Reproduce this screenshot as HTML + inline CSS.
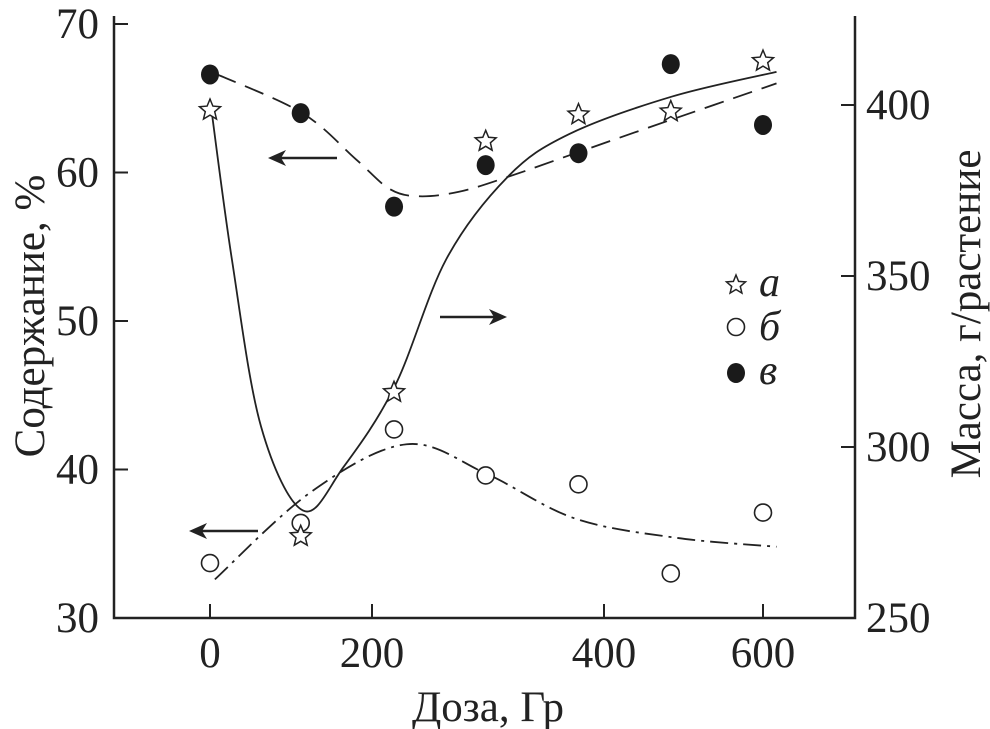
<!DOCTYPE html>
<html><head><meta charset="utf-8"><style>
html,body{margin:0;padding:0;background:#fff;}
svg{display:block;font-family:"Liberation Serif","DejaVu Serif",serif;}
</style></head><body>
<svg id="chart" width="990" height="729" viewBox="0 0 990 729" xmlns="http://www.w3.org/2000/svg">
<g id="axes"></g>
<g id="curves"></g>
<g id="marks"></g>
<g id="legend"></g>
</svg>
<script>
const xTicks = [0, 200, 400, 600];
const leftTicks = [30, 40, 50, 60, 70];
const rightTicks = [250, 300, 350, 400];
const doses = [0, 112, 219, 298, 378, 484, 600];
const seriesA = [64.2, 35.5, 45.2, 62.1, 63.9, 64.1, 67.5];
const seriesB = [33.7, 36.4, 42.7, 39.6, 39.0, 33.0, 37.1];
const seriesC = [66.6, 64.0, 57.7, 60.5, 61.3, 67.3, 63.2];
const massDoses = [0, 27, 63, 115, 165, 220, 264, 317, 370, 486, 617];
const massValues = [401.8, 354.9, 306, 281.4, 294.2, 318, 354.9, 379, 391.5, 402.5, 409.7];
const fitCDoses = [9, 114, 180, 215, 240, 275, 317, 379, 487, 617];
const fitCValues = [66.6, 64.0, 60.9, 58.9, 58.4, 58.7, 59.7, 61.4, 63.6, 66.0];
const fitBDoses = [6, 125, 230, 299, 375, 491, 617];
const fitBValues = [32.6, 38.5, 41.7, 39.7, 36.7, 35.4, 34.8];

const NS = "http://www.w3.org/2000/svg";
const xPix = [210, 372, 604, 763];
function xs(d){
  let i = 0;
  if (d >= xTicks[2]) i = 2; else if (d >= xTicks[1]) i = 1;
  return xPix[i] + (d - xTicks[i]) / (xTicks[i+1] - xTicks[i]) * (xPix[i+1] - xPix[i]);
}
function yl(v){ return 618 - (v - 30) * (594 / 40); }
function yr(v){ return 618 - (v - 250) * (513 / 150); }
function mk(tag, attrs, parent){
  const e = document.createElementNS(NS, tag);
  for (const k in attrs) e.setAttribute(k, attrs[k]);
  parent.appendChild(e); return e;
}
const axes = document.getElementById('axes');
const curves = document.getElementById('curves');
const marks = document.getElementById('marks');
const legend = document.getElementById('legend');

let el;
el = mk('path', {d:'M114,16 V618 H855 V16', fill:'none', stroke:'#222', 'stroke-width':2.5}, axes);


xTicks.forEach(t => {
  const x = xs(t);
  el = mk('line', {x1:x, x2:x, y1:618, y2:604, stroke:'#222', 'stroke-width':2}, axes);
  
  
  el = mk('text', {x:x, y:667, 'font-size':43, 'text-anchor':'middle', fill:'#222', textLength:t===0?'':'', }, axes);
  el.textContent = t;
  
  
});
leftTicks.forEach(t => {
  const y = yl(t);
  el = mk('line', {x1:114, x2:128, y1:y, y2:y, stroke:'#222', 'stroke-width':2}, axes);
  
  
  el = mk('text', {x:99, y:y+14, 'font-size':43, 'text-anchor':'end', fill:'#222'}, axes);
  el.textContent = t;
  
  
});
rightTicks.forEach(t => {
  const y = yr(t);
  el = mk('line', {x1:841, x2:855, y1:y, y2:y, stroke:'#222', 'stroke-width':2}, axes);
  
  
  el = mk('text', {x:866, y:y+14, 'font-size':43, 'text-anchor':'start', fill:'#222'}, axes);
  el.textContent = t;
  
  
});
el = mk('text', {x:488, y:721, 'font-size':43, 'text-anchor':'middle', fill:'#222'}, axes);
el.textContent = 'Доза, Гр';


el = mk('text', {x:0, y:0, 'font-size':43, 'text-anchor':'middle', fill:'#222', transform:'translate(44,316) rotate(-90)'}, axes);
el.textContent = 'Содержание, %';


el = mk('text', {x:0, y:0, 'font-size':43, 'text-anchor':'middle', fill:'#222', transform:'translate(980,314) rotate(-90)'}, axes);
el.textContent = 'Масса, г/растение';



function smooth(pts){
  let d = 'M' + pts[0][0] + ',' + pts[0][1];
  for (let i = 0; i < pts.length - 1; i++){
    const p0 = pts[i-1] || pts[i], p1 = pts[i], p2 = pts[i+1], p3 = pts[i+2] || p2;
    const c1 = [p1[0] + (p2[0]-p0[0])/6, p1[1] + (p2[1]-p0[1])/6];
    const c2 = [p2[0] - (p3[0]-p1[0])/6, p2[1] - (p3[1]-p1[1])/6];
    d += ' C' + c1 + ' ' + c2 + ' ' + p2;
  }
  return d;
}
el = mk('path', {d:smooth(massDoses.map((d,i)=>[xs(d), yr(massValues[i])])), fill:'none', stroke:'#222', 'stroke-width':1.8}, curves);


el = mk('path', {d:smooth(fitCDoses.map((d,i)=>[xs(d), yl(fitCValues[i])])), fill:'none', stroke:'#222', 'stroke-width':1.8, 'stroke-dasharray':'20 10'}, curves);


el = mk('path', {d:smooth(fitBDoses.map((d,i)=>[xs(d), yl(fitBValues[i])])), fill:'none', stroke:'#222', 'stroke-width':1.8, 'stroke-dasharray':'18 6 3 6'}, curves);



function arrow(x1, x2, y, name){
  const dir = x2 > x1 ? 1 : -1;
  const g = mk('g', {}, curves);
  
  
  mk('line', {x1:x1, x2:x2 - dir*12, y1:y, y2:y, stroke:'#222', 'stroke-width':2.5}, g);
  mk('path', {d:`M${x2},${y} L${x2-dir*18},${y-8} L${x2-dir*13},${y} L${x2-dir*18},${y+8} Z`, fill:'#222'}, g);
}
arrow(337, 268, 158, 'arrow-left-top');
arrow(440, 507, 317, 'arrow-right');
arrow(258, 189, 531, 'arrow-left-bottom');

function star(cx, cy, r, parent){
  let p = [];
  for (let i = 0; i < 10; i++){
    const a = -Math.PI/2 + i*Math.PI/5;
    const rr = i % 2 ? r*0.45 : r;
    p.push((cx + rr*Math.cos(a)).toFixed(1) + ',' + (cy + rr*Math.sin(a)).toFixed(1));
  }
  return mk('polygon', {points:p.join(' '), fill:'#fff', stroke:'#222', 'stroke-width':1.5}, parent);
}
doses.forEach((d,i) => {
  el = mk('circle', {cx:xs(d), cy:yl(seriesB[i]), r:8.5, fill:'#fff', stroke:'#222', 'stroke-width':1.6}, marks);
  
  
});
doses.forEach((d,i) => {
  el = mk('ellipse', {cx:xs(d), cy:yl(seriesC[i]), rx:9, ry:10, fill:'#1a1a1a'}, marks);
  
  
});
doses.forEach((d,i) => {
  el = star(xs(d), yl(seriesA[i]), 11, marks);
  
  
});

el = star(736, 285, 10, legend);


el = mk('circle', {cx:736, cy:327, r:8.5, fill:'#fff', stroke:'#222', 'stroke-width':1.6}, legend);


el = mk('ellipse', {cx:736, cy:373, rx:9, ry:10, fill:'#1a1a1a'}, legend);


[['а',296],['б',340],['в',384]].forEach(([t,y]) => {
  el = mk('text', {x:759, y:y, 'font-size':42, 'font-style':'italic', fill:'#222'}, legend);
  el.textContent = t;
  
  
});
</script>
</body></html>
